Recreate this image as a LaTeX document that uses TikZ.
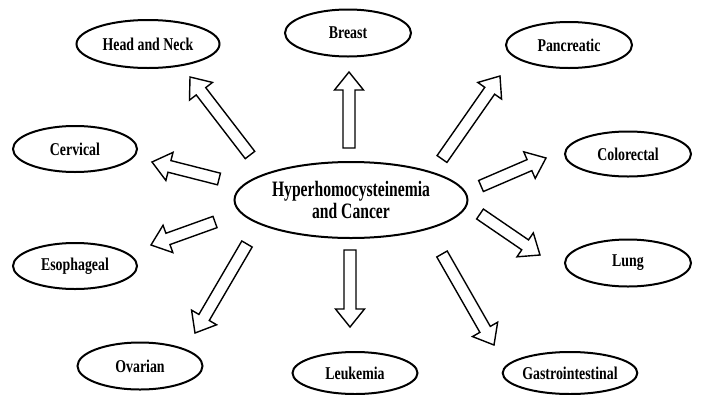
\documentclass[tikz,border=0pt]{standalone}
\usepackage{fontspec}
\newfontfamily\orgfont{Liberation Serif}[FakeStretch=0.77]
\newfontfamily\hubfont{Liberation Serif}[FakeStretch=0.71]
\usetikzlibrary{shapes.geometric,calc}

% hollow block arrow from #1 to #2
\newcommand{\blockarrow}[2]{%
  \path ($(#2)!18pt!(#1)$) coordinate (neck);
  \draw[fat arrow] ($(#1)!6pt!90:(#2)$) -- ($(neck)!6pt!90:(#2)$) -- ($(neck)!14.5pt!90:(#2)$) -- (#2)
    -- ($(neck)!14.5pt!-90:(#2)$) -- ($(neck)!6pt!-90:(#2)$) -- ($(#1)!6pt!-90:(#2)$) -- cycle;}

\begin{document}
\begin{tikzpicture}[x=1pt,y=-1pt,
	organ/.style={ellipse,draw,line width=2pt,inner sep=0pt,font=\orgfont\bfseries\fontsize{18}{20}\selectfont},
	hub/.style={organ,align=center,font=\hubfont\bfseries\fontsize{22}{22.5}\selectfont},
	fat arrow/.style={draw,line width=1.4pt,fill=white}]
	\useasboundingbox (0,0) rectangle (709,394);
	\node[hub,minimum width=233pt,minimum height=76pt] (hub) at (351,200) {Hyperhomocysteinemia\\and Cancer};
	\node[organ,minimum width=143pt,minimum height=48pt] (headneck) at (148,44) {Head and Neck};
	\node[organ,minimum width=126pt,minimum height=47pt] (breast) at (348,33) {Breast};
	\node[organ,minimum width=126pt,minimum height=46pt] (pancreas) at (569,45) {Pancreatic};
	\node[organ,minimum width=124pt,minimum height=46pt] (cervix) at (75,149) {Cervical};
	\node[organ,minimum width=126pt,minimum height=45pt] (colon) at (628,154) {Colorectal};
	\node[organ,minimum width=124pt,minimum height=46pt] (esoph) at (75,266) {Esophageal};
	\node[organ,minimum width=126pt,minimum height=47pt] (lung) at (628,263) {Lung};
	\node[organ,minimum width=125pt,minimum height=47pt] (ovary) at (140,366) {Ovarian};
	\node[organ,minimum width=125pt,minimum height=42pt] (leuk) at (355,373) {Leukemia};
	\node[organ,minimum width=125pt,minimum height=42pt] (gastro) at (570,373) {Gastrointestinal};
	% arrow ends
	\coordinate (hn-tail) at (250,155);  \coordinate (hn-tip) at (190,77);
	\coordinate (cv-tail) at (219,179);  \coordinate (cv-tip) at (152,162);
	\coordinate (br-tail) at (349,148);  \coordinate (br-tip) at (349,72);
	\coordinate (pc-tail) at (442,159);  \coordinate (pc-tip) at (500,76);
	\coordinate (co-tail) at (481,186);  \coordinate (co-tip) at (546,158);
	\coordinate (es-tail) at (215,222);  \coordinate (es-tip) at (151,245);
	\coordinate (ov-tail) at (247,244);  \coordinate (ov-tip) at (195,333);
	\coordinate (lk-tail) at (350,250);  \coordinate (lk-tip) at (350,327);
	\coordinate (lu-tail) at (480,214);  \coordinate (lu-tip) at (540,255);
	\coordinate (gi-tail) at (442,254);  \coordinate (gi-tip) at (494,345);
	\foreach \a in {hn,cv,br,pc,co,es,ov,lk,lu,gi}
		\blockarrow{\a-tail}{\a-tip};
\end{tikzpicture}
\end{document}
